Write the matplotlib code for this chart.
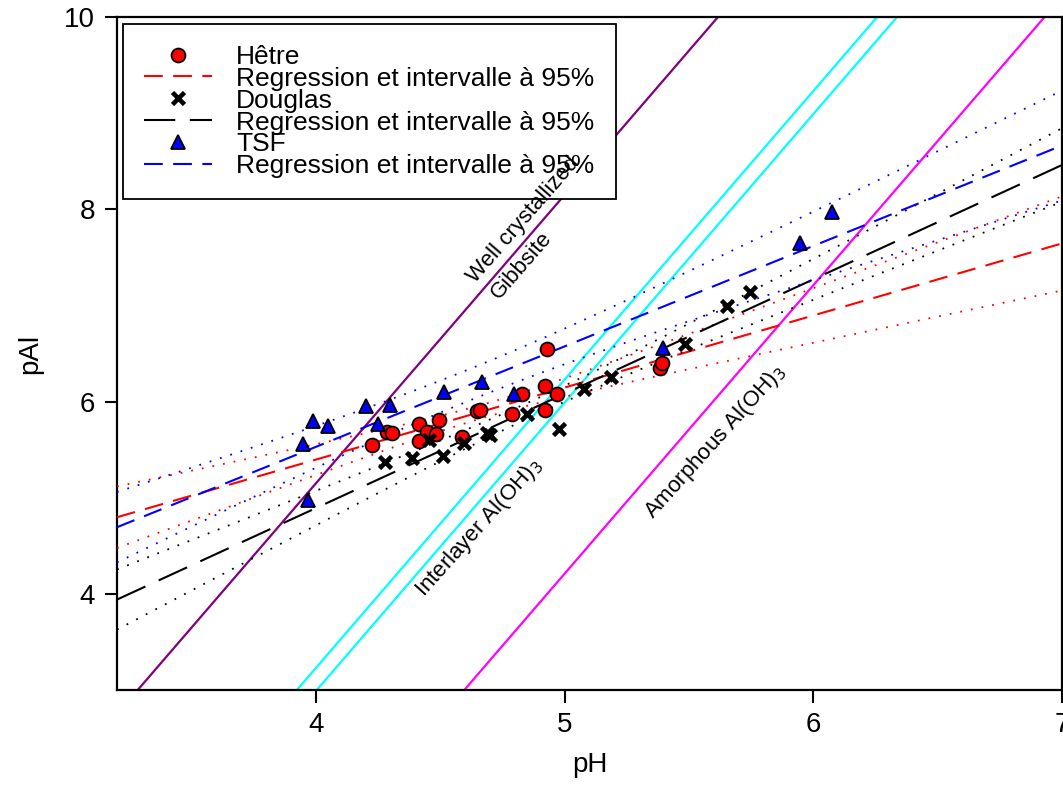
import numpy as np
import matplotlib
matplotlib.use("Agg")
import matplotlib.pyplot as plt

plt.rcParams["font.family"] = ["Liberation Sans", "DejaVu Sans"]

# --- donnees ---
hetre_ph = [4.224, 4.284, 4.304, 4.413, 4.493, 4.445, 4.481, 4.413, 4.586, 4.646,
            4.658, 4.790, 4.923, 4.827, 4.923, 4.971, 4.931, 5.385, 5.393]
hetre_pal = [5.552, 5.688, 5.677, 5.771, 5.813, 5.688, 5.667, 5.594, 5.635, 5.906,
             5.917, 5.875, 5.917, 6.083, 6.167, 6.083, 6.552, 6.354, 6.406]

douglas_ph = [4.276, 4.385, 4.509, 4.453, 4.594, 4.686, 4.698, 4.847, 4.979, 5.076,
              5.188, 5.485, 5.653, 5.746]
douglas_pal = [5.375, 5.417, 5.438, 5.604, 5.573, 5.677, 5.656, 5.875, 5.719, 6.135,
               6.260, 6.594, 6.990, 7.135]

tsf_ph = [3.947, 3.967, 3.987, 4.047, 4.200, 4.248, 4.296, 4.513, 4.666, 4.798,
          5.397, 5.947, 6.076]
tsf_pal = [5.56, 4.98, 5.80, 5.75, 5.95, 5.77, 5.96, 6.10, 6.20, 6.08,
           6.56, 7.65, 7.97]

# droites de solubilite : pAl = 3 pH - logK
mineral_logk = [6.85, 8.77, 9.01, 10.79]
mineral_colors = ["#800080", "#00FFFF", "#00FFFF", "#FF00FF"]

# quantiles t de Student (0.975) par degres de liberte
T975 = {11: 2.201, 12: 2.179, 17: 2.110}

XMIN, XMAX = 3.2, 7.0
YMIN, YMAX = 3.0, 10.0


def regression(x, y, xs):
    x = np.asarray(x)
    y = np.asarray(y)
    n = len(x)
    b, a = np.polyfit(x, y, 1)
    resid = y - (a + b * x)
    s = np.sqrt(np.sum(resid ** 2) / (n - 2))
    sxx = np.sum((x - x.mean()) ** 2)
    t = T975.get(n - 2, 2.1)
    fit = a + b * xs
    half = t * s * np.sqrt(1.0 / n + (xs - x.mean()) ** 2 / sxx)
    return fit, fit - half, fit + half


fig = plt.figure(figsize=(10.63, 8.01), dpi=100)
ax = fig.add_axes([117 / 1063, (801 - 690) / 801, (1062 - 117) / 1063, (690 - 17) / 801])

xs = np.linspace(XMIN, XMAX, 200)

# droites mineraux
for logk, col in zip(mineral_logk, mineral_colors):
    ax.plot(xs, 3 * xs - logk, color=col, lw=1.6, zorder=2)

series = [
    ("Hêtre", hetre_ph, hetre_pal, "red", "o", (0, (9, 5))),
    ("Douglas", douglas_ph, douglas_pal, "black", "x", (0, (15, 7))),
    ("TSF", tsf_ph, tsf_pal, "blue", "^", (0, (9, 5))),
]

handles = []
for name, x, y, col, mk, dash in series:
    fit, lo, hi = regression(x, y, xs)
    ln, = ax.plot(xs, fit, color=col, lw=1.5, linestyle=dash, zorder=3)
    ax.plot(xs, lo, color=col, lw=1.3, linestyle=(0, (1, 5)), zorder=3)
    ax.plot(xs, hi, color=col, lw=1.3, linestyle=(0, (1, 5)), zorder=3)
    if mk == "x":
        pt, = ax.plot(x, y, linestyle="none", marker="x", color="black",
                      markersize=8.5, mew=3.3, zorder=5)
    elif mk == "o":
        pt, = ax.plot(x, y, linestyle="none", marker="o", markerfacecolor=col,
                      markeredgecolor="black", markersize=10, mew=1.3, zorder=5)
    else:
        pt, = ax.plot(x, y, linestyle="none", marker="^", markerfacecolor=col,
                      markeredgecolor="black", markersize=10.5, mew=1.3, zorder=5)
    handles += [pt, ln]

labels = ["Hêtre", "Regression et intervalle à 95%",
          "Douglas", "Regression et intervalle à 95%",
          "TSF", "Regression et intervalle à 95%"]

leg = ax.legend(handles, labels, loc="upper left", bbox_to_anchor=(0.006, 0.99),
                fontsize=19, frameon=True, fancybox=False, edgecolor="black",
                framealpha=1, handlelength=2.6, handletextpad=0.9,
                labelspacing=-0.08, borderpad=0.8, borderaxespad=0.0)
leg.get_frame().set_linewidth(1.3)
leg.set_zorder(6)

# etiquettes des droites
ax.text(4.835, 7.885, "Well crystallized", rotation=49, ha="center", va="center",
        fontsize=16, zorder=7)
ax.text(4.825, 7.417, "Gibbsite", rotation=49, ha="center", va="center",
        fontsize=16, zorder=7)
ax.text(4.658, 4.69, "Interlayer Al(OH)$_3$", rotation=48, ha="center", va="center",
        fontsize=16, zorder=7)
ax.text(5.606, 5.58, "Amorphous Al(OH)$_3$", rotation=48, ha="center", va="center",
        fontsize=16, zorder=7)

ax.set_xlim(XMIN, XMAX)
ax.set_ylim(YMIN, YMAX)
ax.set_xticks([4, 5, 6, 7])
ax.set_yticks([4, 6, 8, 10])
ax.tick_params(direction="out", length=9, width=1.5, labelsize=20, pad=7)
for sp in ax.spines.values():
    sp.set_linewidth(1.6)

ax.set_xlabel("pH", fontsize=20, labelpad=10)
ax.set_ylabel("pAl", fontsize=20, labelpad=15)

plt.savefig("out.png", dpi=100)
